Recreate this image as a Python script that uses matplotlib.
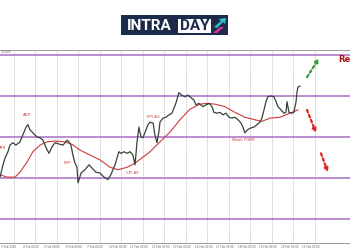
import matplotlib.pyplot as plt
from matplotlib.patches import Rectangle, Polygon

# price path (x in grid periods, y in price)
price_t = [-0.65, -0.51, -0.42, -0.28, -0.19, -0.05, 0.09, 0.28, 0.37, 0.47, 0.56, 0.65,
           0.74, 0.88, 1.07, 1.21, 1.35, 1.49, 1.63, 1.77, 1.91, 2.14, 2.28, 2.47, 2.56,
           2.65, 2.74, 2.84, 2.93, 2.98, 3.12, 3.30, 3.49, 3.63, 3.81, 4.00, 4.19, 4.37,
           4.51, 4.60, 4.70, 4.79, 4.88, 4.98, 5.12, 5.26, 5.40, 5.53, 5.63, 5.72, 5.81,
           5.91, 6.00, 6.09, 6.23, 6.33, 6.47, 6.56, 6.65, 6.74, 6.79, 6.93, 7.07, 7.21,
           7.35, 7.44, 7.53, 7.67, 7.81, 7.95, 8.09, 8.23, 8.37, 8.47, 8.60, 8.79, 8.93,
           9.07, 9.21, 9.30, 9.44, 9.58, 9.72, 9.86, 10.00, 10.14, 10.28, 10.42, 10.56,
           10.65, 10.74, 10.88, 11.02, 11.16, 11.30, 11.44, 11.53, 11.63, 11.72, 11.81,
           11.95, 12.09, 12.19, 12.28, 12.42, 12.56, 12.65, 12.70, 12.79, 12.93, 13.02,
           13.12, 13.16, 13.21, 13.30]
price = [1.0851, 1.0866, 1.0874, 1.0882, 1.0890, 1.0893, 1.0890, 1.0894, 1.0900, 1.0906,
         1.0912, 1.0915, 1.0909, 1.0905, 1.0900, 1.0899, 1.0896, 1.0887, 1.0880, 1.0888,
         1.0893, 1.0891, 1.0890, 1.0896, 1.0894, 1.0890, 1.0878, 1.0868, 1.0863, 1.0844,
         1.0856, 1.0860, 1.0866, 1.0862, 1.0857, 1.0856, 1.0851, 1.0848, 1.0854, 1.0860,
         1.0866, 1.0874, 1.0882, 1.0880, 1.0882, 1.0880, 1.0882, 1.0878, 1.0866, 1.0893,
         1.0912, 1.0900, 1.0899, 1.0905, 1.0915, 1.0918, 1.0917, 1.0902, 1.0893, 1.0906,
         1.0918, 1.0923, 1.0924, 1.0927, 1.0929, 1.0935, 1.0941, 1.0954, 1.0951, 1.0949,
         1.0951, 1.0948, 1.0945, 1.0939, 1.0941, 1.0937, 1.0939, 1.0941, 1.0937, 1.0930,
         1.0929, 1.0930, 1.0927, 1.0929, 1.0924, 1.0923, 1.0924, 1.0921, 1.0917, 1.0912,
         1.0905, 1.0909, 1.0911, 1.0912, 1.0915, 1.0918, 1.0923, 1.0933, 1.0943, 1.0949,
         1.0950, 1.0949, 1.0943, 1.0937, 1.0933, 1.0929, 1.0930, 1.0943, 1.0930, 1.0929,
         1.0930, 1.0943, 1.0954, 1.0961, 1.0962]

# moving average
ma_t = [-0.65, -0.33, 0.05, 0.28, 0.60, 0.88, 1.21, 1.53, 1.91, 2.37, 2.70, 3.07, 3.53,
        4.00, 4.47, 4.84, 5.26, 5.63, 6.33, 6.79, 7.26, 7.72, 8.19, 8.65, 8.98, 9.35,
        9.81, 10.28, 10.74, 11.21, 11.53, 11.91, 12.37, 12.84, 13.21]
ma = [1.0854, 1.0851, 1.0851, 1.0857, 1.0869, 1.0882, 1.0890, 1.0894, 1.0895, 1.0894,
      1.0891, 1.0884, 1.0878, 1.0872, 1.0863, 1.0860, 1.0863, 1.0868, 1.0882, 1.0894,
      1.0906, 1.0921, 1.0934, 1.0940, 1.0941, 1.0940, 1.0937, 1.0930, 1.0924, 1.0921,
      1.0919, 1.0923, 1.0924, 1.0929, 1.0933]

levels = [1.1000, 1.0950, 1.0900, 1.0850, 1.0800]
grid_t = list(range(15))

events = ["ATR", "ADP", "NFP", "CPI AS", "PPI AG", "Weak FOMC"]
event_t = [-0.51, 0.60, 2.47, 5.49, 6.47, 10.70]
event_y = [1.0887, 1.0927, 1.0868, 1.0856, 1.0924, 1.0896]

date_labels = ["3 Feb 2020", "4 Feb 00:00", "5 Feb 00:00", "6 Feb 00:00", "7 Feb 00:00",
               "10 Feb 00:00", "11 Feb 00:00", "12 Feb 00:00", "13 Feb 00:00", "14 Feb 00:00",
               "17 Feb 00:00", "18 Feb 00:00", "19 Feb 00:00", "20 Feb 00:00", "21 Feb 00:00"]

fig = plt.figure(figsize=(3.5, 2.5), dpi=100)
fig.patch.set_facecolor("white")

# logo
W, H = 350.0, 250.0
def box(x0, y0, x1, y1, color):
    fig.add_artist(Rectangle((x0 / W, 1 - y1 / H), (x1 - x0) / W, (y1 - y0) / H,
                             transform=fig.transFigure, color=color, lw=0))

box(121, 15, 228, 35, "#1d2b4b")
box(178, 19, 211, 33, "white")
fig.text(127 / W, 1 - 26 / H, "INTRA", color="white", fontsize=11, fontweight="bold",
         family="Roboto", va="center", ha="left")
fig.text(194.5 / W, 1 - 26 / H, "DAY", color="#1d2b4b", fontsize=11, fontweight="bold",
         family="Roboto", va="center", ha="center")
for pts, col in [([(214, 27), (221, 21), (219, 19), (226, 18), (225, 24), (223, 22), (217, 28)], "#2ec4c8"),
                 ([(213, 33), (220, 27), (224, 27), (217, 33)], "#e0309a")]:
    fig.add_artist(Polygon([(x / W, 1 - y / H) for x, y in pts], closed=True,
                           transform=fig.transFigure, color=col, lw=0))

# chart
ax = fig.add_axes([0, 1 - 243 / H, 1.0, (243 - 50) / H])
ax.set_xlim(-0.65, 15.63)
ax.set_ylim(1.07706, 1.10061)

for t in grid_t:
    ax.axvline(t, color="#c8c8c8", lw=0.6, ls=(0, (2, 1)), zorder=1)
for lv in levels:
    ax.axhline(lv, color="#a86dc6", lw=1.1, zorder=2)

ax.plot(ma_t, ma, color="#cc3b3b", lw=0.8, zorder=3)
ax.plot(price_t, price, color="#34443a", lw=0.9, zorder=4)

for name, t, y in zip(events, event_t, event_y):
    ax.text(t, y, name, color="#d03a3a", fontsize=2.8, ha="center", va="center")

# scenario arrows
arrow_green = ((13.63, 1.0973), (14.19, 1.0996))
arrow_red1 = ((13.63, 1.0933), (14.05, 1.0905))
arrow_red2 = ((14.28, 1.0880), (14.60, 1.0857))
for (p0, p1), col in [(arrow_green, "#3c9a3c"), (arrow_red1, "#e02424"), (arrow_red2, "#e02424")]:
    ax.annotate("", xy=p1, xytext=p0,
                arrowprops=dict(arrowstyle="-|>", color=col, lw=1.6, ls=(0, (1.2, 1.2)),
                                mutation_scale=5, shrinkA=0, shrinkB=0))

# label runs off the right edge, as in the source screenshot
ax.text(15.07, 1.0994, "Resistance", color="#a81414", fontsize=6, fontweight="bold",
        ha="left", va="center", clip_on=False)

for s in ["left", "right"]:
    ax.spines[s].set_visible(False)
for s in ["top", "bottom"]:
    ax.spines[s].set_color("#9a9a9a")
    ax.spines[s].set_linewidth(0.7)
ax.set_yticks([])
ax.set_xticks([t - 0.6 for t in grid_t])
ax.set_xticklabels(date_labels, fontsize=2.0, color="#666666", ha="left")
ax.tick_params(axis="x", length=0, pad=1.5)

fig.text(1 / W, 1 - 52 / H, "1.1005", fontsize=2.2, color="#555555", va="center", ha="left")

fig.savefig("out.png", dpi=100, facecolor="white")
